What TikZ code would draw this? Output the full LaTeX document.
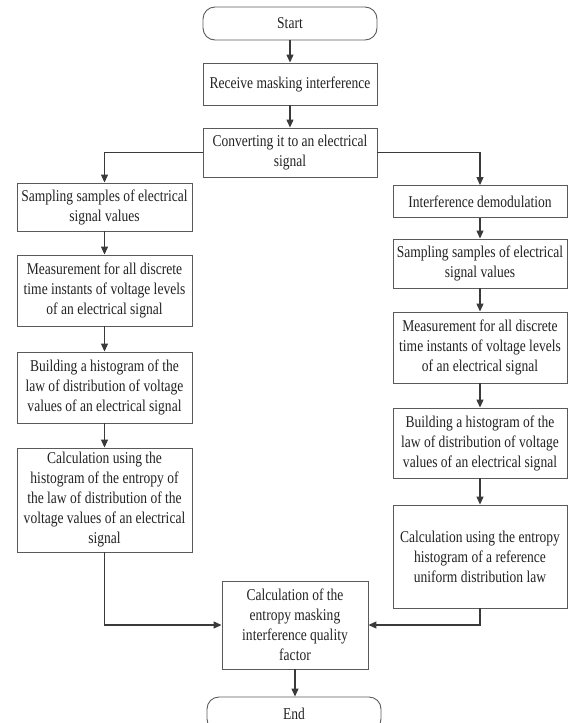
\documentclass[tikz,border=0pt]{standalone}
\usepackage{fontspec}
\setmainfont{Liberation Serif}[FakeStretch=0.82]
\usetikzlibrary{arrows.meta}
\definecolor{boxgray}{HTML}{5A5A5A}
\definecolor{linegray}{HTML}{3A3A3A}
\definecolor{txt}{HTML}{222222}
\begin{document}
\begin{tikzpicture}[x=1pt,y=-1pt,
  box/.style={draw=boxgray, line width=0.9pt, align=center, inner sep=0pt,
    font=\fontsize{16.5}{20}\selectfont, text=txt},
  term/.style={box, rounded corners=12pt},
  ln/.style={draw=linegray, line width=1.1pt},
  arr/.style={ln, -{Triangle[length=8pt,width=7pt]}}]
\useasboundingbox (0,0) rectangle (568,723);
\clip (0,0) rectangle (568,723);
% centre column
\node[term, minimum width=174pt, minimum height=33pt] (start) at (290,23.5) {Start};
\node[box, minimum width=174pt, minimum height=42pt] (recv) at (290,84) {Receive masking interference};
\node[box, minimum width=174pt, minimum height=49pt] (conv) at (290,152.5) {Converting it to an electrical\\signal};
% left column
\node[box, minimum width=175pt, minimum height=48pt] (l1) at (104.5,207) {Sampling samples of electrical\\signal values};
\node[box, minimum width=175pt, minimum height=71pt] (l2) at (104.5,290.5) {Measurement for all discrete\\time instants of voltage levels\\of an electrical signal};
\node[box, minimum width=175pt, minimum height=71pt] (l3) at (104.5,387.5) {Building a histogram of the\\law of distribution of voltage\\values of an electrical signal};
\node[box, minimum width=175pt, minimum height=104pt] (l4) at (104.5,500) {Calculation using the\\histogram of the entropy of\\the law of distribution of the\\voltage values of an electrical\\signal};
% right column
\node[box, minimum width=174pt, minimum height=32pt] (r1) at (480,201.5) {Interference demodulation};
\node[box, minimum width=174pt, minimum height=49pt] (r2) at (480,263.5) {Sampling samples of electrical\\signal values};
\node[box, minimum width=174pt, minimum height=71pt] (r3) at (480,347.5) {Measurement for all discrete\\time instants of voltage levels\\of an electrical signal};
\node[box, minimum width=174pt, minimum height=70pt] (r4) at (480,443) {Building a histogram of the\\law of distribution of voltage\\values of an electrical signal};
\node[box, minimum width=174pt, minimum height=103pt] (r5) at (480,556.5) {Calculation using the entropy\\histogram of a reference\\uniform distribution law};
% bottom
\node[box, minimum width=146pt, minimum height=88pt] (fin) at (295,625) {Calculation of the\\entropy masking\\interference quality\\factor};
\node[term, minimum width=174pt, minimum height=34pt] (end) at (294,714) {End};
% connectors
\draw[arr] (start) -- (recv);
\draw[arr] (recv) -- (conv);
\draw[arr] (conv.west) -| (l1.north);
\draw[arr] (conv.east) -| (r1.north);
\draw[arr] (l1) -- (l2);
\draw[arr] (l2) -- (l3);
\draw[arr] (l3) -- (l4);
\draw[arr] (r1) -- (r2);
\draw[arr] (r2) -- (r3);
\draw[arr] (r3) -- (r4);
\draw[arr] (r4) -- (r5);
\draw[arr] (l4.south) |- (fin.west);
\draw[arr] (r5.south) |- (fin.east);
\draw[arr] (fin.south) -- (fin.south |- end.north);
\end{tikzpicture}
\end{document}
